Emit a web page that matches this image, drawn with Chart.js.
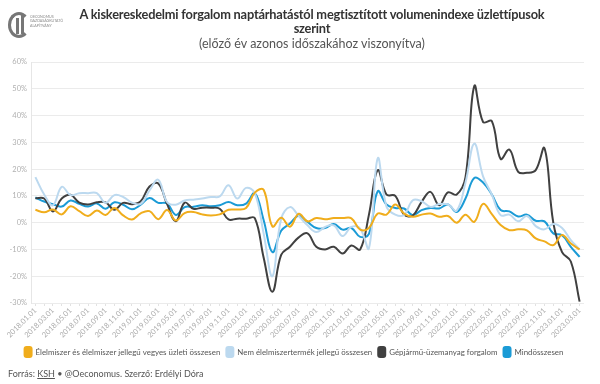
<!DOCTYPE html>
<html>
<head>
<meta charset="utf-8">
<script src="https://cdn.jsdelivr.net/npm/chart.js@4.4.1/dist/chart.umd.min.js"></script>
<style>
  html, body { margin: 0; padding: 0; background: #fff; }
  #wrap { position: relative; width: 600px; height: 384px; overflow: hidden; font-family: Lato, "Open Sans", sans-serif; }
  #chart { position: absolute; left: 0; top: 0; }
  .title { position: absolute; left: 60px; width: 504px; top: 7px; text-align: center; color: #333; }
  .title h1 { margin: 0; font-size: 12.8px; line-height: 14px; font-weight: 700; letter-spacing: -0.2px; }
  .title p { margin: 1px 0 0 0; font-size: 12.5px; line-height: 15px; color: #555; }
  .logo { position: absolute; left: 8px; top: 10px; width: 52px; height: 32px; }
  .logo .ring { position: absolute; left: 0; top: 2px; width: 16px; height: 20px; border: 3px solid #777; border-right-color: transparent; border-radius: 50%; }
  .logo .bar { position: absolute; background: #777; width: 3px; }
  .logo .txt { position: absolute; left: 22px; top: 5px; font-size: 3.6px; line-height: 4.4px; color: #888; }
  .foot { position: absolute; left: 8px; top: 368px; font-size: 9px; color: #555; }
  .foot u { text-decoration: underline; }
</style>
</head>
<body>
<div id="wrap">
  <canvas id="chart" width="600" height="384"></canvas>
  <div class="logo">
    <div class="ring"></div>
    <div class="bar" style="left:8px; top:8px; height:16px;"></div>
    <div class="bar" style="left:13px; top:4px; height:20px;"></div>
    <div class="txt">OECONOMUS<br>GAZDASÁGKUTATÓ<br>ALAPÍTVÁNY</div>
  </div>
  <div class="title">
    <h1>A kiskereskedelmi forgalom naptárhatástól megtisztított volumenindexe üzlettípusok<br>szerint</h1>
    <p>(előző év azonos időszakához viszonyítva)</p>
  </div>
  <div class="foot">Forrás: <u>KSH</u> • @Oeconomus. Szerző: Erdélyi Dóra</div>
</div>

<script>
// ---- adatok (havi, %, előző év azonos időszakához) ----
const months = [
  '2018.01.01','2018.02.01','2018.03.01','2018.04.01','2018.05.01','2018.06.01',
  '2018.07.01','2018.08.01','2018.09.01','2018.10.01','2018.11.01','2018.12.01',
  '2019.01.01','2019.02.01','2019.03.01','2019.04.01','2019.05.01','2019.06.01',
  '2019.07.01','2019.08.01','2019.09.01','2019.10.01','2019.11.01','2019.12.01',
  '2020.01.01','2020.02.01','2020.03.01','2020.04.01','2020.05.01','2020.06.01',
  '2020.07.01','2020.08.01','2020.09.01','2020.10.01','2020.11.01','2020.12.01',
  '2021.01.01','2021.02.01','2021.03.01','2021.04.01','2021.05.01','2021.06.01',
  '2021.07.01','2021.08.01','2021.09.01','2021.10.01','2021.11.01','2021.12.01',
  '2022.01.01','2022.02.01','2022.03.01','2022.04.01','2022.05.01','2022.06.01',
  '2022.07.01','2022.08.01','2022.09.01','2022.10.01','2022.11.01','2022.12.01',
  '2023.01.01','2023.02.01','2023.03.01'
];

const elelmiszer = [
  4.8, 3.9, 4.9, 3.1, 6.1, 4.3, 2.5, 4.5, 2.9, 5.5, 2.7, 1.2,
  3.5, 4.3, 1.3, 4.7, 0.8, 3.6, 4.0, 3.1, 2.7, 3.1, 4.8, 4.9,
  5.5, 11.2, 12.3, -1.4, 1.8, -1.5, 3.3, 0.5, 1.7, 1.3, 1.7, 1.7,
  1.6, -2.6, -2.0, 3.4, 3.0, 6.8, 3.4, 2.2, 3.0, 3.4, 2.2, 2.5,
  0.0, 3.0, 0.3, 7.0, 3.2, -0.9, -2.8, -2.5, -2.9, -5.9, -7.0, -8.4,
  -4.6, -7.8, -10.0
];

const nemElelmiszer = [
  17.0, 10.5, 6.5, 13.4, 10.3, 11.0, 11.0, 11.0, 7.4, 10.3, 9.6, 7.5,
  7.0, 12.0, 16.0, 7.7, 6.7, 8.3, 8.6, 9.0, 9.6, 9.8, 14.0, 9.0,
  13.0, 11.0, -4.0, -20.0, 1.5, 5.8, 2.5, -1.0, -3.5, -1.6, -1.0, -5.0,
  -1.6, -2.2, -9.6, 24.0, 6.0, 3.0, 2.9, 8.4, 8.0, 5.9, 7.0, 6.8,
  4.5, 15.0, 29.5, 17.3, 10.5, 2.8, 3.0, 0.5, 2.5, -1.3, -2.5, -0.5,
  -2.0, -6.5, -10.0
];

const uzemanyag = [
  9.1, 9.0, 4.2, 9.0, 10.4, 7.5, 6.8, 7.6, 7.6, 4.8, 7.4, 6.9,
  8.0, 13.5, 14.6, 7.0, 0.5, 7.5, 5.2, 5.6, 5.6, 5.2, 1.2, 1.5,
  1.5, 1.7, -13.0, -25.8, -12.0, -9.0, -5.5, -4.0, -9.0, -10.0, -9.0, -11.5,
  -8.5, -10.0, 3.0, 19.6, 10.5, 10.0, 3.0, 2.7, 7.8, 11.5, 6.5, 11.3,
  10.5, 17.0, 51.0, 37.6, 37.9, 23.8, 27.3, 19.0, 18.6, 19.6, 27.8, 0.0,
  -11.0, -14.5, -29.5
];

const mindosszesen = [
  9.4, 7.9, 6.9, 6.0, 8.3, 7.0, 6.0, 7.2, 5.2, 7.6, 6.7, 5.0,
  6.7, 9.2, 7.4, 7.2, 2.9, 5.8, 5.9, 6.5, 6.1, 6.5, 7.7, 6.5,
  7.1, 11.0, 1.0, -11.0, -3.0, -0.3, 2.6, 0.3, -2.0, -2.0, -0.5, -2.6,
  -2.0, -5.3, -4.2, 11.7, 6.8, 5.5, 5.3, 2.8, 4.7, 5.5, 5.3, 6.8,
  4.0, 9.0, 16.7, 15.0, 10.5, 4.7, 4.2, 2.3, 3.0, 0.7, 0.5, -4.0,
  -4.7, -9.0, -12.8
];

const seriesNames = [
  'Élelmiszer és élelmiszer jellegű vegyes üzleti összesen',
  'Nem élelmiszertermék jellegű összesen',
  'Gépjármű-üzemanyag forgalom',
  'Mindösszesen'
];
const seriesColors = ['#f0ad1c', '#bcd9ef', '#404040', '#1b9bd6'];

// ---- diagram ----
function makeDataset(i, values) {
  return {
    label: seriesNames[i],
    data: values,
    borderColor: seriesColors[i],
    backgroundColor: seriesColors[i],
    borderWidth: 2,
    pointRadius: 0,
    tension: 0.4,
    fill: false
  };
}

const ctx = document.getElementById('chart').getContext('2d');
new Chart(ctx, {
  type: 'line',
  data: {
    labels: months,
    datasets: [
      makeDataset(0, elelmiszer),
      makeDataset(1, nemElelmiszer),
      makeDataset(2, uzemanyag),
      makeDataset(3, mindosszesen)
    ]
  },
  options: {
    responsive: false,
    animation: false,
    devicePixelRatio: 1,
    layout: { padding: { top: 62, left: 4, right: 16, bottom: 17 } },
    plugins: {
      legend: {
        position: 'bottom',
        labels: {
          boxWidth: 7,
          boxHeight: 10,
          useBorderRadius: true,
          borderRadius: 2,
          padding: 6,
          color: '#555',
          font: { family: 'Lato', size: 7.9 }
        }
      },
      tooltip: { enabled: false }
    },
    scales: {
      x: {
        offset: true,
        afterFit: s => { s.height = 38; },
        grid: { drawOnChartArea: false, tickLength: 3, color: '#e2e2e2' },
        border: { display: false },
        ticks: {
          autoSkip: false,
          maxRotation: 45,
          minRotation: 45,
          padding: 0,
          color: '#aaa',
          font: { family: 'Lato', size: 7.5 },
          callback: (v, i) => (i % 2 === 0 ? months[i] : '')
        }
      },
      y: {
        min: -30,
        max: 60,
        afterFit: s => { s.width = 27; },
        grid: { color: '#ebebeb', drawTicks: false },
        border: { display: true, color: '#e6e6e6' },
        ticks: {
          stepSize: 10,
          padding: 4,
          color: '#b0b0b0',
          font: { family: 'Lato', size: 7.5 },
          callback: v => v + '%'
        }
      }
    }
  }
});
</script>
</body>
</html>
